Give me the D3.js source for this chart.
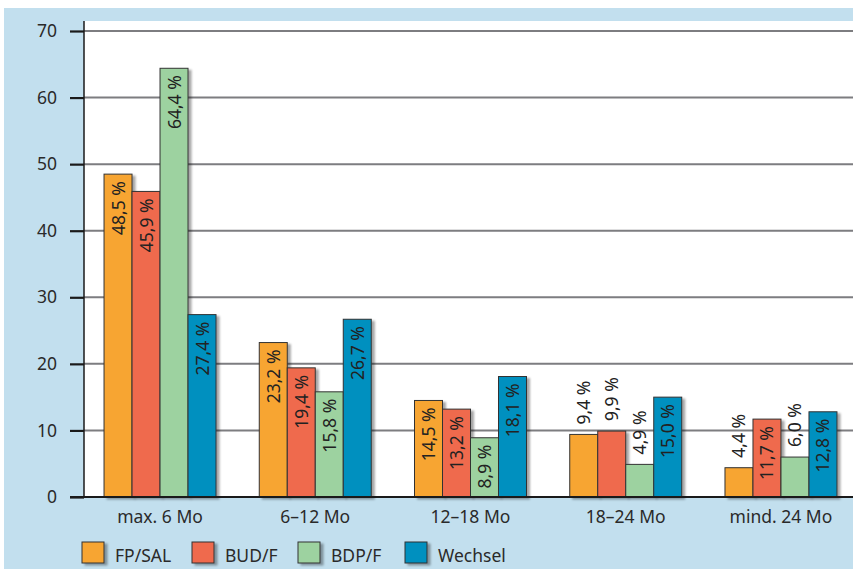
<!DOCTYPE html>
<html>
<head>
<meta charset="utf-8">
<script src="https://cdn.jsdelivr.net/npm/d3@7"></script>
<style>
  html, body { margin: 0; padding: 0; background: #ffffff; }
  svg { display: block; font-family: "Noto Sans", "Open Sans", sans-serif; }
</style>
</head>
<body>
<svg id="chart" width="853" height="573"></svg>
<script>
// Therapy duration groups and the share of patients per inhaler regimen
const categories = ["max. 6 Mo", "6–12 Mo", "12–18 Mo", "18–24 Mo", "mind. 24 Mo"];
const seriesNames = ["FP/SAL", "BUD/F", "BDP/F", "Wechsel"];
const fpSal   = [48.5, 23.2, 14.5, 9.4, 4.4];
const budF    = [45.9, 19.4, 13.2, 9.9, 11.7];
const bdpF    = [64.4, 15.8, 8.9, 4.9, 6.0];
const wechsel = [27.4, 26.7, 18.1, 15.0, 12.8];
const yTicks  = [0, 10, 20, 30, 40, 50, 60, 70];
// value labels that sit above their bar instead of inside it
const labelsAbove = ["18–24 Mo|FP/SAL", "18–24 Mo|BUD/F", "18–24 Mo|BDP/F", "mind. 24 Mo|FP/SAL", "mind. 24 Mo|BDP/F"];

const seriesValues = [fpSal, budF, bdpF, wechsel];
const colors = ["#F7A533", "#EF6B4E", "#9DD2A0", "#0090BF"];

const svg = d3.select("#chart");
const W = 853, H = 573;
const plot = { left: 84, right: 853, top: 21, bottom: 497 };

// drop shadow for bars and legend swatches
const defs = svg.append("defs");
const f = defs.append("filter").attr("id", "shadow")
  .attr("x", "-20%").attr("y", "-10%").attr("width", "160%").attr("height", "130%");
f.append("feDropShadow").attr("dx", 3).attr("dy", 2).attr("stdDeviation", 1.3)
  .attr("flood-color", "#000").attr("flood-opacity", 0.35);

// backgrounds
svg.append("rect").attr("x", 4).attr("y", 8).attr("width", W - 4).attr("height", 561).attr("fill", "#C2DFEE");
svg.append("rect").attr("x", plot.left).attr("y", plot.top)
  .attr("width", plot.right - plot.left).attr("height", plot.bottom - plot.top).attr("fill", "#ffffff");

const y = d3.scaleLinear().domain([0, 70]).range([plot.bottom, plot.top + 10]);
const x0 = d3.scaleBand().domain(categories).range([84, 857])
  .paddingInner(0.2786).paddingOuter(0.129);
const x1 = d3.scaleBand().domain(seriesNames).range([0, x0.bandwidth()]);

// gridlines
svg.append("g").selectAll("line").data(yTicks.filter(t => t > 0)).join("line")
  .attr("x1", plot.left).attr("x2", plot.right)
  .attr("y1", d => y(d)).attr("y2", d => y(d))
  .attr("stroke", "#7d7d80").attr("stroke-width", 2);

// y axis
const yAxis = svg.append("g").attr("transform", `translate(${plot.left},0)`)
  .call(d3.axisLeft(y).tickValues(yTicks).tickSize(14).tickPadding(13).tickFormat(d3.format("d")));
yAxis.select(".domain").remove();
yAxis.selectAll(".tick line").attr("stroke", "#1a1a1a").attr("stroke-width", 2.2);
yAxis.selectAll(".tick text").attr("font-size", 17.5).attr("fill", "#2a2a2a")
  .attr("font-family", "'Noto Sans', sans-serif");
svg.append("line").attr("x1", plot.left).attr("x2", plot.left)
  .attr("y1", plot.top).attr("y2", plot.bottom).attr("stroke", "#1a1a1a").attr("stroke-width", 1.5);

// bars
const flat = [];
categories.forEach((c, i) => seriesNames.forEach((s, j) => flat.push({ cat: c, series: s, value: seriesValues[j][i], color: colors[j] })));

const groups = svg.append("g");
groups.selectAll("rect").data(flat).join("rect")
  .attr("x", d => x0(d.cat) + x1(d.series))
  .attr("y", d => y(d.value))
  .attr("width", x1.bandwidth())
  .attr("height", d => y(0) - y(d.value))
  .attr("fill", d => d.color)
  .attr("stroke", "#333").attr("stroke-width", 1)
  .attr("filter", "url(#shadow)");

// baseline
svg.append("line").attr("x1", 70).attr("x2", plot.right)
  .attr("y1", y(0)).attr("y2", y(0)).attr("stroke", "#1a1a1a").attr("stroke-width", 2);

// value labels, rotated
const fmt = v => d3.format(".1f")(v).replace(".", ",") + " %";
const isAbove = d => labelsAbove.includes(d.cat + "|" + d.series);
svg.append("g").selectAll("text").data(flat).join("text")
  .attr("transform", d => {
    const cx = x0(d.cat) + x1(d.series) + x1.bandwidth() / 2;
    const ty = isAbove(d) ? y(d.value) - 10 : y(d.value) + 7;
    return `translate(${cx + 6.5},${ty}) rotate(-90)`;
  })
  .attr("text-anchor", d => isAbove(d) ? "start" : "end")
  .attr("font-size", 17.5).attr("fill", "#222")
  .text(d => fmt(d.value));

// category labels
svg.append("g").selectAll("text").data(categories).join("text")
  .attr("x", d => x0(d) + x0.bandwidth() / 2).attr("y", 523)
  .attr("text-anchor", "middle").attr("font-size", 17.5).attr("fill", "#2a2a2a")
  .text(d => d);

// legend
const legendX = [82, 192, 298, 405];
const legend = svg.append("g").selectAll("g").data(seriesNames).join("g")
  .attr("transform", (d, i) => `translate(${legendX[i]},542)`);
legend.append("rect").attr("width", 22).attr("height", 21)
  .attr("fill", (d, i) => colors[i]).attr("stroke", "#333").attr("stroke-width", 1)
  .attr("filter", "url(#shadow)");
legend.append("text").attr("x", 33).attr("y", 19.5)
  .attr("font-size", 17.5).attr("fill", "#2a2a2a").text(d => d);
</script>
</body>
</html>
